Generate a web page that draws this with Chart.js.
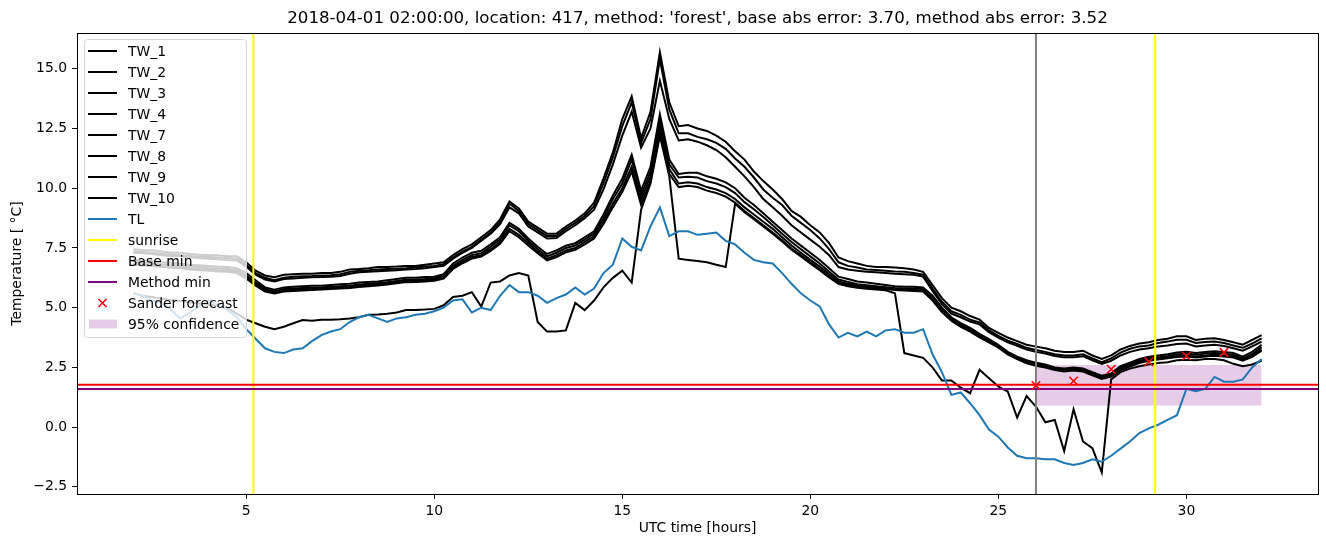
<!DOCTYPE html>
<html>
<head>
<meta charset="utf-8">
<script src="https://cdn.jsdelivr.net/npm/chart.js@4.4.1/dist/chart.umd.min.js"></script>
<style>
  html, body { margin: 0; padding: 0; background: #fff; }
</style>
</head>
<body>
<canvas id="chart" width="1326" height="547"></canvas>
<script>
// time axis (UTC hours), 15 min steps
const hours = [
  2, 2.25, 2.5, 2.75, 3, 3.25, 3.5, 3.75,
  4, 4.25, 4.5, 4.75, 5, 5.25, 5.5, 5.75,
  6, 6.25, 6.5, 6.75, 7, 7.25, 7.5, 7.75,
  8, 8.25, 8.5, 8.75, 9, 9.25, 9.5, 9.75,
  10, 10.25, 10.5, 10.75, 11, 11.25, 11.5, 11.75,
  12, 12.25, 12.5, 12.75, 13, 13.25, 13.5, 13.75,
  14, 14.25, 14.5, 14.75, 15, 15.25, 15.5, 15.75,
  16, 16.25, 16.5, 16.75, 17, 17.25, 17.5, 17.75,
  18, 18.25, 18.5, 18.75, 19, 19.25, 19.5, 19.75,
  20, 20.25, 20.5, 20.75, 21, 21.25, 21.5, 21.75,
  22, 22.25, 22.5, 22.75, 23, 23.25, 23.5, 23.75,
  24, 24.25, 24.5, 24.75, 25, 25.25, 25.5, 25.75,
  26, 26.25, 26.5, 26.75, 27, 27.25, 27.5, 27.75,
  28, 28.25, 28.5, 28.75, 29, 29.25, 29.5, 29.75,
  30, 30.25, 30.5, 30.75, 31, 31.25, 31.5, 31.75,
  32
];

const TW_1 = [
  7.45, 7.42, 7.4, 7.35, 7.3, 7.3, 7.25, 7.22,
  7.2, 7.2, 7.15, 7.15, 6.9, 6.55, 6.35, 6.28,
  6.38, 6.4, 6.42, 6.42, 6.45, 6.45, 6.5, 6.6,
  6.62, 6.65, 6.7, 6.7, 6.72, 6.75, 6.75, 6.8,
  6.85, 6.9, 7.2, 7.45, 7.65, 7.95, 8.25, 8.7,
  9.45, 9.15, 8.6, 8.35, 8.1, 8.1, 8.4, 8.65,
  8.95, 9.4, 10.4, 11.5, 12.9, 13.85, 12.1, 13.2,
  15.7, 13.6, 12.6, 12.65, 12.5, 12.4, 12.2, 11.95,
  11.55, 11.2, 10.7, 10.3, 9.95, 9.55, 9.05, 8.8,
  8.45, 8.15, 7.7, 7.1, 6.95, 6.85, 6.75, 6.7,
  6.7, 6.68, 6.65, 6.6, 6.5, 5.95, 5.4, 5.0,
  4.85, 4.65, 4.5, 4.15, 3.95, 3.75, 3.6, 3.45,
  3.37, 3.3, 3.2, 3.15, 3.15, 3.2, 3.0, 2.85,
  3.0, 3.25, 3.4, 3.5, 3.55, 3.65, 3.7, 3.8,
  3.8, 3.65, 3.7, 3.72, 3.65, 3.55, 3.45, 3.65,
  3.85
];
const TW_2 = [
  7.35, 7.33, 7.3, 7.26, 7.22, 7.2, 7.16, 7.14,
  7.12, 7.1, 7.08, 7.05, 6.8, 6.45, 6.25, 6.15,
  6.25, 6.3, 6.32, 6.33, 6.35, 6.36, 6.4, 6.5,
  6.55, 6.57, 6.6, 6.62, 6.63, 6.65, 6.68, 6.72,
  6.75, 6.82, 7.1, 7.35, 7.55, 7.85, 8.15, 8.6,
  9.35, 9.05, 8.5, 8.25, 8.0, 8.0, 8.3, 8.55,
  8.85, 9.25, 10.2, 11.3, 12.6, 13.6, 11.9, 12.9,
  15.4, 13.3, 12.3, 12.3, 12.15, 12.05, 11.9, 11.65,
  11.25, 10.9, 10.45, 9.95, 9.6, 9.3, 8.85, 8.55,
  8.25, 7.9, 7.45, 6.9, 6.75, 6.68, 6.6, 6.58,
  6.55, 6.52, 6.5, 6.45, 6.38, 5.8, 5.25, 4.85,
  4.7, 4.5, 4.38, 4.05, 3.82, 3.62, 3.48, 3.32,
  3.23, 3.15, 3.05, 3.0, 3.0, 3.05, 2.88, 2.72,
  2.88, 3.12, 3.28, 3.38, 3.42, 3.52, 3.58, 3.66,
  3.66, 3.52, 3.56, 3.58, 3.52, 3.42, 3.32, 3.5,
  3.72
];
const TW_3 = [
  7.0, 6.98, 6.95, 6.9, 6.88, 6.85, 6.8, 6.78,
  6.75, 6.72, 6.7, 6.65, 6.45, 6.15, 5.85, 5.75,
  5.85, 5.88, 5.9, 5.92, 5.92, 5.95, 5.98, 6.0,
  6.05, 6.08, 6.1, 6.15, 6.2, 6.25, 6.25, 6.28,
  6.3, 6.4, 6.85, 7.1, 7.3, 7.38, 7.65, 7.95,
  8.55, 8.3, 7.9, 7.55, 7.25, 7.4, 7.6, 7.7,
  7.95, 8.2, 8.9, 9.7, 10.4, 11.4, 9.9, 10.9,
  13.1, 11.2, 10.6, 10.65, 10.65, 10.5, 10.4, 10.25,
  10.0, 9.6, 9.3, 8.95, 8.6, 8.25, 7.9, 7.6,
  7.3, 7.0, 6.65, 6.3, 6.2, 6.1, 6.05, 6.0,
  5.95, 5.9, 5.88, 5.88, 5.85, 5.5, 5.0, 4.6,
  4.35, 4.15, 3.9, 3.68, 3.45, 3.15, 2.95, 2.8,
  2.7, 2.62, 2.5, 2.45, 2.5, 2.45, 2.3, 2.15,
  2.25, 2.55, 2.7, 2.85, 2.95, 3.0, 3.05, 3.12,
  3.15, 3.1, 3.15, 3.18, 3.15, 3.1, 2.95, 3.15,
  3.45
];
const TW_4 = [
  6.92, 6.9, 6.86, 6.82, 6.8, 6.76, 6.72, 6.7,
  6.66, 6.64, 6.62, 6.56, 6.35, 6.05, 5.78, 5.68,
  5.78, 5.8, 5.82, 5.84, 5.85, 5.88, 5.9, 5.92,
  5.97, 6.0, 6.03, 6.07, 6.12, 6.17, 6.18, 6.2,
  6.23, 6.32, 6.75, 7.0, 7.2, 7.28, 7.55, 7.85,
  8.45, 8.2, 7.8, 7.45, 7.15, 7.3, 7.5, 7.6,
  7.85, 8.1, 8.75, 9.55, 10.2, 11.2, 9.7, 10.7,
  12.9, 11.0, 10.45, 10.48, 10.45, 10.3, 10.2, 10.05,
  9.8, 9.42, 9.12, 8.8, 8.45, 8.1, 7.75, 7.45,
  7.15, 6.85, 6.5, 6.18, 6.08, 5.98, 5.94, 5.9,
  5.86, 5.82, 5.8, 5.8, 5.77, 5.4, 4.92, 4.53,
  4.28, 4.08, 3.84, 3.62, 3.4, 3.1, 2.9, 2.75,
  2.65, 2.57, 2.46, 2.4, 2.45, 2.4, 2.25, 2.1,
  2.2, 2.48, 2.63, 2.78, 2.88, 2.93, 2.98, 3.05,
  3.08, 3.03, 3.08, 3.1, 3.08, 3.02, 2.88, 3.05,
  3.35
];
const TW_7 = [
  7.3, 7.28, 7.25, 7.2, 7.16, 7.15, 7.1, 7.08,
  7.05, 7.03, 7.0, 6.98, 6.72, 6.38, 6.18, 6.1,
  6.2, 6.22, 6.25, 6.27, 6.28, 6.3, 6.33, 6.42,
  6.48, 6.5, 6.53, 6.55, 6.57, 6.6, 6.62, 6.65,
  6.7, 6.75, 7.05, 7.3, 7.5, 7.8, 8.1, 8.5,
  9.2, 8.95, 8.4, 8.15, 7.9, 7.92, 8.2, 8.45,
  8.75, 9.1, 9.95, 11.0, 12.2, 13.2, 11.7, 12.5,
  14.5, 12.9, 12.0, 12.05, 11.95, 11.8, 11.6, 11.3,
  10.9, 10.5, 10.05, 9.55, 9.2, 8.85, 8.45, 8.15,
  7.85, 7.55, 7.2, 6.7, 6.6, 6.55, 6.5, 6.48,
  6.45, 6.42, 6.4, 6.38, 6.3, 5.7, 5.15, 4.75,
  4.6, 4.42, 4.3, 3.98, 3.75, 3.55, 3.4, 3.25,
  3.15, 3.08, 2.98, 2.92, 2.92, 2.97, 2.8, 2.65,
  2.78, 3.0, 3.15, 3.25, 3.3, 3.38, 3.42, 3.48,
  3.5, 3.38, 3.42, 3.45, 3.4, 3.3, 3.2, 3.38,
  3.58
];
const TW_8 = [
  6.85, 6.82, 6.8, 6.75, 6.72, 6.7, 6.65, 6.62,
  6.6, 6.57, 6.55, 6.5, 6.28, 5.98, 5.72, 5.62,
  5.72, 5.75, 5.77, 5.78, 5.8, 5.82, 5.85, 5.87,
  5.92, 5.95, 5.98, 6.02, 6.07, 6.12, 6.13, 6.15,
  6.18, 6.27, 6.68, 6.92, 7.12, 7.2, 7.45, 7.75,
  8.3, 8.05, 7.7, 7.35, 7.05, 7.2, 7.4, 7.5,
  7.75, 8.0, 8.6, 9.35, 10.0, 10.9, 9.5, 10.5,
  12.6, 10.8, 10.2, 10.25, 10.2, 10.05, 9.95, 9.8,
  9.55, 9.2, 8.9, 8.6, 8.3, 7.95, 7.6, 7.3,
  7.0, 6.72, 6.4, 6.1, 6.0, 5.92, 5.88, 5.85,
  5.82, 5.78, 5.76, 5.75, 5.72, 5.35, 4.86, 4.48,
  4.23, 4.03, 3.79, 3.58, 3.36, 3.07, 2.88, 2.7,
  2.6, 2.52, 2.42, 2.36, 2.4, 2.36, 2.2, 2.05,
  2.15, 2.42, 2.58, 2.72, 2.82, 2.87, 2.92, 2.98,
  3.0, 2.96, 3.0, 3.03, 3.0, 2.95, 2.82, 2.98,
  3.25
];
const TW_9 = [
  6.8, 6.77, 6.75, 6.7, 6.67, 6.65, 6.6, 6.57,
  6.55, 6.52, 6.5, 6.45, 6.22, 5.92, 5.68, 5.6,
  5.68, 5.7, 5.72, 5.74, 5.76, 5.78, 5.8, 5.82,
  5.87, 5.9, 5.93, 5.97, 6.02, 6.07, 6.08, 6.1,
  6.13, 6.22, 6.62, 6.86, 7.06, 7.14, 7.38, 7.68,
  8.2, 7.95, 7.6, 7.28, 6.98, 7.12, 7.32, 7.42,
  7.65, 7.9, 8.5, 9.2, 9.85, 10.7, 9.3, 10.3,
  12.3, 10.6, 10.05, 10.1, 10.05, 9.9, 9.8, 9.65,
  9.4, 9.05, 8.75, 8.45, 8.15, 7.82, 7.48, 7.2,
  6.9, 6.62, 6.32, 6.04, 5.95, 5.88, 5.84, 5.81,
  5.78, 5.74, 5.72, 5.7, 5.68, 5.3, 4.82, 4.45,
  4.2, 4.0, 3.76, 3.55, 3.33, 3.04, 2.85, 2.67,
  2.57, 2.49, 2.39, 2.33, 2.37, 2.33, 2.17, 2.02,
  2.12, 2.38, 2.54, 2.68, 2.78, 2.83, 2.88, 2.94,
  2.96, 2.92, 2.96, 2.99, 2.96, 2.91, 2.78, 2.94,
  3.2
];
const TW_10 = [
  5.6, 5.5, 5.45, 5.38, 5.32, 5.28, 5.22, 5.18,
  5.12, 5.08, 4.98, 4.75, 4.5, 4.35, 4.2, 4.1,
  4.2, 4.35, 4.48, 4.45, 4.5, 4.5, 4.52, 4.55,
  4.6, 4.7, 4.72, 4.75, 4.8, 4.9, 4.9, 4.92,
  4.95, 5.1, 5.45, 5.5, 5.65, 5.05, 6.05, 6.1,
  6.35, 6.45, 6.35, 4.4, 4.0, 4.0, 4.05, 5.2,
  4.9, 5.3, 5.85, 6.25, 6.55, 6.05, 9.1, 10.2,
  12.2, 10.5, 7.05, 7.0, 6.95, 6.9, 6.8, 6.7,
  9.35, 9.0, 8.7, 8.4, 8.1, 7.77, 7.43, 7.15,
  6.85, 6.57, 6.27, 6.0, 5.9, 5.83, 5.79, 5.76,
  5.73, 5.6, 3.1, 3.0, 2.9, 2.5, 1.95, 1.95,
  1.65, 1.42, 2.4, 2.05, 1.7, 1.49, 0.4, 1.3,
  0.86, 0.2, 0.3, -1.0, 0.75, -0.6, -0.88, -1.9,
  2.0, 2.3, 2.45, 2.55, 2.62, 2.68, 2.72, 2.8,
  2.82, 2.8, 2.85, 2.85, 2.8, 2.65, 2.55, 2.62,
  2.78
];
const TL = [
  5.6, 5.5, 5.3, 5.2, 4.9, 4.55, 4.8, 5.05,
  5.3, 5.1, 4.9, 4.6, 4.1, 3.7, 3.3, 3.15,
  3.1, 3.25, 3.3, 3.6, 3.85, 4.0, 4.1, 4.4,
  4.6, 4.7, 4.55, 4.4, 4.55, 4.6, 4.7, 4.75,
  4.85, 5.0, 5.3, 5.35, 4.8, 5.0, 4.9, 5.5,
  5.95, 5.65, 5.65, 5.5, 5.2, 5.4, 5.55, 5.85,
  5.55, 5.8, 6.45, 6.8, 7.9, 7.55, 7.4, 8.4,
  9.2, 8.0, 8.2, 8.2, 8.05, 8.1, 8.15, 7.8,
  7.65, 7.3, 7.0, 6.9, 6.85, 6.45, 6.0, 5.6,
  5.3, 5.05, 4.3, 3.75, 3.95, 3.8, 4.0, 3.8,
  4.05, 4.1, 3.95, 3.95, 4.1, 3.05, 2.3, 1.35,
  1.45, 1.0, 0.5, -0.1, -0.4, -0.85, -1.2, -1.3,
  -1.3, -1.35, -1.35, -1.5, -1.58, -1.5, -1.35, -1.45,
  -1.2, -0.9, -0.6, -0.25, -0.05, 0.1, 0.3, 0.5,
  1.6, 1.5, 1.6, 2.1, 1.9, 1.9, 2.0, 2.5,
  2.85
];

const sunrise = [5.19, 29.17];
const forecastStart = 26.0;
const baseMin = 1.77;
const methodMin = 1.60;
const sanderHours = [26, 27, 28, 29, 30, 31];
const sanderForecast = [1.74, 1.93, 2.42, 2.74, 2.98, 3.13];
const confHours = [26, 32];
const confLow = [0.90, 0.90];
const confHigh = [2.60, 2.60];

const xTicks = [5, 10, 15, 20, 25, 30];
const yTicks = [-2.5, 0, 2.5, 5, 7.5, 10, 12.5, 15];
const X_MIN = 0.5, X_MAX = 33.5, Y_MIN = -2.8, Y_MAX = 16.5;

const titleText = "2018-04-01 02:00:00, location: 417, method: 'forest', base abs error: 3.70, method abs error: 3.52";

function pts(xs, ys) {
  return xs.map((x, i) => ({ x: x, y: ys[i] }));
}
function vlines(xs) {
  const out = [];
  xs.forEach((x, i) => {
    if (i > 0) out.push({ x: x, y: null });
    out.push({ x: x, y: Y_MIN }, { x: x, y: Y_MAX });
  });
  return out;
}
function hline(y) {
  return [{ x: X_MIN, y: y }, { x: X_MAX, y: y }];
}

const FONT = 'DejaVu Sans';
Chart.defaults.font.family = FONT;
Chart.defaults.color = '#000';

function twLine(label, data) {
  return {
    label, data: pts(hours, data), legendKind: 'line',
    borderColor: '#000', borderWidth: 2, pointRadius: 0, order: 50
  };
}

// top/right spines + legend box inside the axes
const frameAndLegend = {
  id: 'frameAndLegend',
  afterDraw(chart) {
    const { ctx, chartArea: a } = chart;
    ctx.save();
    ctx.strokeStyle = '#000';
    ctx.lineWidth = 1;
    ctx.strokeRect(a.left + 0.5, a.top + 0.5, a.right - a.left, a.bottom - a.top);

    const items = chart.data.datasets.filter(d => d.legendKind);
    const bx = a.left + 7, by = a.top + 6, bw = 162, row = 21;
    const bh = 12 + (items.length - 1) * row + 13;
    ctx.beginPath();
    ctx.roundRect(bx + 0.5, by + 0.5, bw, bh, 3);
    ctx.fillStyle = 'rgba(255,255,255,0.8)';
    ctx.fill();
    ctx.strokeStyle = '#d6d6d6';
    ctx.stroke();

    items.forEach((d, i) => {
      const y = by + 12 + i * row;
      const hx0 = bx + 4, hx1 = bx + 33, hc = (hx0 + hx1) / 2;
      if (d.legendKind === 'line') {
        ctx.beginPath();
        ctx.moveTo(hx0, y);
        ctx.lineTo(hx1, y);
        ctx.strokeStyle = d.borderColor;
        ctx.lineWidth = d.borderWidth;
        ctx.stroke();
      } else if (d.legendKind === 'marker') {
        ctx.beginPath();
        ctx.moveTo(hc - 4, y - 4); ctx.lineTo(hc + 4, y + 4);
        ctx.moveTo(hc - 4, y + 4); ctx.lineTo(hc + 4, y - 4);
        ctx.strokeStyle = d.pointBorderColor;
        ctx.lineWidth = 1.5;
        ctx.stroke();
      } else if (d.legendKind === 'patch') {
        ctx.fillStyle = d.backgroundColor;
        ctx.fillRect(hx0 + 1, y - 4.5, 28, 9);
      }
      ctx.fillStyle = '#000';
      ctx.font = '13.9px "' + FONT + '"';
      ctx.textBaseline = 'middle';
      ctx.textAlign = 'left';
      ctx.fillText(d.label, bx + 44, y + 1);
    });
    ctx.restore();
  }
};

const datasets = [
  twLine('TW_1', TW_1),
  twLine('TW_2', TW_2),
  twLine('TW_3', TW_3),
  twLine('TW_4', TW_4),
  twLine('TW_7', TW_7),
  twLine('TW_8', TW_8),
  twLine('TW_9', TW_9),
  twLine('TW_10', TW_10),
  {
    label: 'TL', data: pts(hours, TL), legendKind: 'line',
    borderColor: '#1f77b4', borderWidth: 2, pointRadius: 0, order: 40
  },
  {
    label: 'sunrise', data: vlines(sunrise), legendKind: 'line',
    borderColor: '#ffff00', borderWidth: 2, pointRadius: 0, spanGaps: false, order: 30
  },
  {
    label: 'Base min', data: hline(baseMin), legendKind: 'line',
    borderColor: '#ff0000', borderWidth: 2, pointRadius: 0, order: 20
  },
  {
    label: 'Method min', data: hline(methodMin), legendKind: 'line',
    borderColor: '#800080', borderWidth: 2, pointRadius: 0, order: 15
  },
  {
    label: 'Sander forecast', data: pts(sanderHours, sanderForecast), legendKind: 'marker',
    showLine: false, pointStyle: 'crossRot', pointRadius: 6,
    pointBorderColor: '#ff0000', pointBorderWidth: 1.5, borderColor: '#ff0000', order: 10
  },
  {
    label: '95% confidence', data: pts(confHours, confHigh), legendKind: 'patch',
    borderWidth: 0, pointRadius: 0, fill: '+1',
    backgroundColor: 'rgba(128,0,128,0.2)', borderColor: 'rgba(0,0,0,0)', order: 100
  },
  {
    label: 'conf low', data: pts(confHours, confLow),
    borderWidth: 0, pointRadius: 0, borderColor: 'rgba(0,0,0,0)', order: 101
  },
  {
    label: 'forecast start', data: vlines([forecastStart]),
    borderColor: '#808080', borderWidth: 2, pointRadius: 0, order: 28
  }
];

new Chart(document.getElementById('chart'), {
  type: 'line',
  data: { datasets },
  options: {
    responsive: false,
    animation: false,
    devicePixelRatio: 1,
    events: [],
    layout: { padding: { left: 0, right: 8, top: 0, bottom: 0 } },
    plugins: {
      legend: { display: false },
      tooltip: { enabled: false },
      title: {
        display: true, text: titleText, fullSize: false, color: '#000',
        font: { size: 16.67, weight: 'normal' }, padding: { top: 9, bottom: 4 }
      }
    },
    scales: {
      x: {
        type: 'linear', min: X_MIN, max: X_MAX,
        afterFit: s => { s.height = 53; },
        afterBuildTicks: s => { s.ticks = xTicks.map(v => ({ value: v })); },
        ticks: { autoSkip: false, maxRotation: 0, padding: 4, color: '#000',
          font: { size: 13.9 }, callback: v => String(v) },
        grid: { drawOnChartArea: false, drawTicks: true, tickLength: 5, color: '#000' },
        border: { display: true, color: '#000', width: 1 },
        title: { display: true, text: 'UTC time [hours]', color: '#000',
          font: { size: 13.9 }, padding: { top: 0, bottom: 10 } }
      },
      y: {
        type: 'linear', min: Y_MIN, max: Y_MAX,
        afterFit: s => { s.width = 77; },
        afterBuildTicks: s => { s.ticks = yTicks.map(v => ({ value: v })); },
        ticks: { autoSkip: false, padding: 5, color: '#000', font: { size: 13.9 },
          callback: v => (v < 0 ? '\u2212' + Math.abs(v).toFixed(1) : v.toFixed(1)) },
        grid: { drawOnChartArea: false, drawTicks: true, tickLength: 5, color: '#000' },
        border: { display: true, color: '#000', width: 1 },
        title: { display: true, text: 'Temperature [ \u00b0C]', color: '#000',
          font: { size: 13.9 }, padding: { top: 9, bottom: 0 } }
      }
    }
  },
  plugins: [frameAndLegend]
});
</script>
</body>
</html>
